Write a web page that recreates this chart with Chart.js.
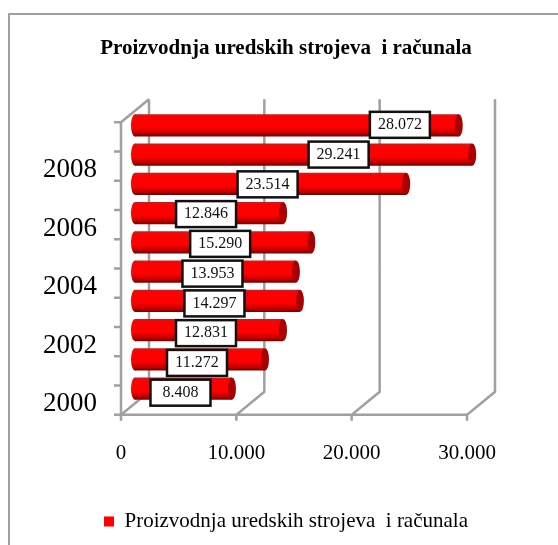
<!DOCTYPE html>
<html>
<head>
<meta charset="utf-8">
<style>
  html, body { margin: 0; padding: 0; background: #fff; overflow: hidden; }
  #wrap { position: absolute; left: 0; top: 0; width: 558px; height: 545px; }
</style>
<script src="https://cdn.jsdelivr.net/npm/chart.js@4"></script>
</head>
<body>
<div id="wrap"><canvas id="chart" width="558" height="545"></canvas></div>
<script>
// podaci
const years = ["2000", "2001", "2002", "2003", "2004", "2005", "2006", "2007", "2008", "2009"];
const production = [8408, 11272, 12831, 14297, 13953, 15290, 12846, 23514, 29241, 28072];
const xTicks = [0, 10000, 20000, 30000];
const seriesName = "Proizvodnja uredskih strojeva  i računala";

const depthX = 28, depthY = 23; // dubina 3D zida
const barShiftX = 14, barShiftY = -11.5;
const gray = "#a0a0a0";
const fmt = v => String(v).replace(/\B(?=(\d{3})+$)/g, ".");

// zidovi i crtice osi
const walls = {
  id: "walls",
  beforeDatasetsDraw(chart) {
    const { ctx, scales: { x, y } } = chart;
    const bottom = y.bottom, top = y.top, left = x.left;
    ctx.save();
    ctx.strokeStyle = gray;
    ctx.lineWidth = 2.5;
    ctx.beginPath();
    xTicks.forEach(t => {
      const px = x.getPixelForValue(t);
      ctx.moveTo(px, bottom + 6);
      ctx.lineTo(px, bottom);
      ctx.lineTo(px + depthX, bottom - depthY);
      ctx.lineTo(px + depthX, top - depthY);
    });
    ctx.moveTo(left, top);
    ctx.lineTo(left + depthX, top - depthY);
    ctx.moveTo(left, top);
    ctx.lineTo(left, bottom);
    ctx.moveTo(left - 7, bottom);
    ctx.lineTo(x.right, bottom);
    years.forEach((_, i) => {
      const edge = top + (bottom - top) * i / years.length;
      ctx.moveTo(left - 7, edge);
      ctx.lineTo(left, edge);
    });
    ctx.stroke();
    ctx.restore();
    // stupci su u sredini dubine
    ctx.save();
    ctx.translate(barShiftX, barShiftY);
  },
  afterDatasetsDraw(chart) {
    const { ctx } = chart;
    chart.getDatasetMeta(0).data.forEach(bar => {
      const h = bar.height;
      ctx.fillStyle = "#a80000";
      ctx.beginPath();
      ctx.ellipse(bar.x, bar.y, 4, h / 2, 0, 0, Math.PI * 2);
      ctx.fill();
      // zaobljeni početak
      ctx.fillStyle = cylinder(ctx, bar.y, h);
      ctx.beginPath();
      ctx.ellipse(bar.base, bar.y, 4, h / 2, 0, 0, Math.PI * 2);
      ctx.fill();
    });
    ctx.restore();
  }
};

function cylinder(ctx, cy, h) {
  const g = ctx.createLinearGradient(0, cy - h / 2, 0, cy + h / 2);
  g.addColorStop(0, "#c02020");
  g.addColorStop(0.12, "#ff0000");
  g.addColorStop(0.6, "#ff0000");
  g.addColorStop(0.85, "#c00000");
  g.addColorStop(1, "#700000");
  return g;
}

// oznake vrijednosti
const valueBoxes = {
  id: "valueBoxes",
  afterDatasetsDraw(chart) {
    const { ctx } = chart;
    ctx.save();
    ctx.font = "16px 'Liberation Serif'";
    ctx.textAlign = "center";
    ctx.textBaseline = "middle";
    chart.getDatasetMeta(0).data.forEach((bar, i) => {
      const moved = { 8: 38, 9: 106 }[i] || 0;
      const cx = (bar.x + bar.base) / 2 + barShiftX - 3 + moved;
      const cy = bar.y + barShiftY + (9 - i) * 0.5 - 0.5;
      ctx.fillStyle = "#fff";
      ctx.fillRect(cx - 30, cy - 13, 60, 26);
      ctx.strokeStyle = "#111";
      ctx.lineWidth = 2.5;
      ctx.strokeRect(cx - 30, cy - 13, 60, 26);
      ctx.fillStyle = "#111";
      ctx.fillText(fmt(production[i]), cx, cy);
    });
    ctx.restore();
  }
};

// okvir
const frame = {
  id: "frame",
  beforeDraw(chart) {
    const { ctx } = chart;
    ctx.save();
    ctx.strokeStyle = gray;
    ctx.lineWidth = 2;
    ctx.beginPath();
    ctx.moveTo(9, 545);
    ctx.lineTo(9, 14);
    ctx.lineTo(558, 14);
    ctx.stroke();
    ctx.restore();
  }
};

new Chart(document.getElementById("chart"), {
  type: "bar",
  data: {
    labels: years,
    datasets: [{
      label: seriesName,
      data: production,
      xAxisID: "x",
      yAxisID: "y",
      backgroundColor: c => {
        const { ctx, chartArea } = c.chart;
        if (!chartArea) return "#ff0000";
        const band = (chartArea.bottom - chartArea.top) / years.length;
        const cy = c.chart.scales.y.getPixelForValue(c.dataIndex);
        return cylinder(ctx, cy, band * 0.76);
      },
      barPercentage: 0.76,
      categoryPercentage: 1,
    }],
  },
  options: {
    indexAxis: "y",
    responsive: false,
    animation: false,
    layout: { padding: { left: 14, right: 0, top: 0, bottom: 3 } },
    plugins: {
      tooltip: { enabled: false },
      title: {
        display: true,
        text: seriesName,
        color: "#000",
        font: { family: "'Liberation Serif'", size: 21, weight: "bold" },
        padding: { top: 36, bottom: 61 },
      },
      legend: {
        position: "bottom",
        labels: {
          color: "#000",
          boxWidth: 10,
          boxHeight: 10,
          padding: 14,
          font: { family: "'Liberation Serif'", size: 21 },
          generateLabels(chart) {
            return Chart.defaults.plugins.legend.labels.generateLabels(chart)
              .map(item => ({ ...item, fillStyle: "#ff0000", strokeStyle: "#ff0000", lineWidth: 0 }));
          },
        },
      },
    },
    scales: {
      x: {
        min: 0,
        max: 30000,
        afterBuildTicks: s => { s.ticks = xTicks.map(value => ({ value })); },
        grid: { display: false },
        border: { display: false },
        ticks: {
          color: "#000",
          padding: 18,
          maxRotation: 0,
          font: { family: "'Liberation Serif'", size: 21 },
          callback: v => fmt(v),
        },
        afterFit(s) { s.height += 13; },
      },
      y: {
        reverse: true,
        grid: { display: false },
        border: { display: false },
        ticks: {
          color: "#000",
          padding: 16,
          labelOffset: 4,
          autoSkip: false,
          font: { family: "'Liberation Serif'", size: 27 },
          callback(v, i) { return i % 2 === 0 ? years[i] : ""; },
        },
        afterFit(s) { s.width = 107; },
      },
      // prazan prostor desno od osi
      rightGap: {
        type: "linear",
        axis: "y",
        position: "right",
        grid: { display: false },
        border: { display: false },
        ticks: { display: false },
        afterFit(s) { s.width = 91; },
      },
    },
  },
  plugins: [frame, walls, valueBoxes],
});
</script>
</body>
</html>
